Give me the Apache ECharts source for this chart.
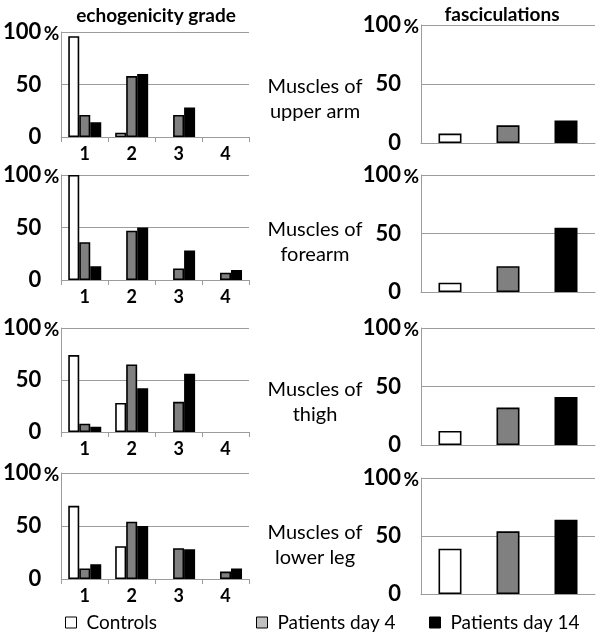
<!DOCTYPE html>
<html>
<head>
<meta charset="utf-8">
<script src="https://cdn.jsdelivr.net/npm/echarts@6/dist/echarts.min.js"></script>
<style>
  html, body { margin: 0; padding: 0; background: #fff; }
  #chart { width: 600px; height: 634px; }
</style>
</head>
<body>
<div id="chart"></div>
<script>
// categories
var grades = ['1', '2', '3', '4'];
var groups = ['Controls', 'Patients day 4', 'Patients day 14'];
var muscles = ['Muscles of\nupper arm', 'Muscles of\nforearm', 'Muscles of\nthigh', 'Muscles of\nlower leg'];
var yTicks = [0, 50, 100];

// echogenicity grade, % per grade 1..4, one row per muscle group
var echoControls = [[96, 4, 0, 0], [100, 0, 0, 0], [74, 28, 0, 0], [69, 31, 0, 0]];
var echoDay4 = [[21, 58, 21, 0], [36, 47, 11, 7], [8, 65, 29, 0], [10, 54, 29, 7]];
var echoDay14 = [[14, 60, 28, 0], [13, 50, 28, 9.5], [5, 42, 56, 0], [14, 50, 28, 10]];

// fasciculations %, [controls, day 4, day 14]
var fasc = [[8, 15, 19], [8, 22, 55], [12, 32, 41], [39, 54, 64]];

var colors = ['#ffffff', '#808080', '#000000'];
var legendColors = ['#ffffff', '#c0c0c0', '#000000'];
var font = 'Lato, "Open Sans", sans-serif';
var gridColor = '#9c9c9c';

/*---------------- panel layout ----------------*/
var leftGrids = [[32, 105], [175, 105], [328, 104], [473, 106]];
var rightGrids = [[25, 118], [175, 117], [328, 117], [478, 116]];
var labelTops = [69, 212, 372, 515];

var grid = [], xAxis = [], yAxis = [], series = [], title = [];

function yAxisOpt(idx) {
  return {
    gridIndex: idx, type: 'value', min: 0, max: 100, interval: 50,
    name: '%', nameLocation: 'end', nameGap: -11, nameMoveOverlap: false,
    nameTextStyle: { color: '#000', fontFamily: font, fontWeight: 'bold', fontSize: 19,
      align: 'right', padding: [0, 2, 0, 0] },
    axisLine: { show: true, lineStyle: { color: gridColor, width: 1 } },
    axisTick: { show: false },
    splitLine: { show: true, lineStyle: { color: gridColor, width: 1 } },
    axisLabel: { color: '#000', fontFamily: font, fontWeight: 'bold', fontSize: 22, margin: 20,
      formatter: function (v) { return yTicks.indexOf(v) >= 0 ? String(v) : ''; } }
  };
}

function nz(arr) {
  return arr.map(function (v) { return v === 0 ? '-' : v; });
}

for (var p = 0; p < 4; p++) {
  // left: echogenicity grade
  grid.push({ left: 54, width: 195, top: leftGrids[p][0], height: leftGrids[p][1] });
  // right: fasciculations
  grid.push({ left: 421, width: 174, top: rightGrids[p][0], height: rightGrids[p][1] });

  var li = p * 2, ri = p * 2 + 1;
  xAxis.push({
    gridIndex: li, type: 'category', data: grades,
    axisLine: { lineStyle: { color: gridColor } },
    axisTick: { show: true, length: 5, lineStyle: { color: gridColor } },
    axisLabel: { color: '#000', fontFamily: font, fontWeight: 'bold', fontSize: 18, margin: 8 }
  });
  xAxis.push({
    gridIndex: ri, type: 'category', data: groups,
    axisLine: { lineStyle: { color: gridColor } },
    axisTick: { show: false },
    axisLabel: { show: false }
  });
  yAxis.push(yAxisOpt(li));
  yAxis.push(yAxisOpt(ri));

  var rows = [echoControls[p], echoDay4[p], echoDay14[p]];
  for (var g = 0; g < 3; g++) {
    series.push({
      name: groups[g], type: 'bar', xAxisIndex: li, yAxisIndex: li,
      data: nz(rows[g]), barWidth: 11, barGap: '0%',
      itemStyle: { color: colors[g], borderColor: '#000', borderWidth: 1.6 },
      silent: true, animation: false
    });
  }
  series.push({
    name: 'fasc', type: 'bar', xAxisIndex: ri, yAxisIndex: ri,
    data: fasc[p].map(function (v, k) { return { value: v, itemStyle: { color: colors[k] } }; }),
    barWidth: 23,
    itemStyle: { borderColor: '#000', borderWidth: 1.6 },
    silent: true, animation: false
  });

  title.push({
    text: muscles[p], left: 310, top: labelTops[p], textAlign: 'center',
    textStyle: { fontFamily: font, fontWeight: 'normal', fontSize: 20, lineHeight: 25, color: '#000' }
  });
}

title.push({
  text: 'echogenicity grade', left: 151, top: 1, textAlign: 'center',
  textStyle: { fontFamily: font, fontWeight: 'bold', fontSize: 19, color: '#000' }
});
title.push({
  text: 'fasciculations', left: 497, top: 0, textAlign: 'center',
  textStyle: { fontFamily: font, fontWeight: 'bold', fontSize: 19, color: '#000' }
});

/*---------------- legend, one block per item ----------------*/
var legendLeft = [65, 256, 429];
var legend = groups.map(function (name, k) {
  return {
    data: [{ name: name, itemStyle: { color: legendColors[k], borderColor: '#000', borderWidth: 1 } }],
    left: legendLeft[k], top: 613, icon: 'rect', itemWidth: 11, itemHeight: 11, itemGap: 0,
    padding: 0, selectedMode: false,
    textStyle: { fontFamily: font, fontSize: 19, color: '#000', padding: [0, 0, 0, 5] }
  };
});

var myChart = echarts.init(document.getElementById('chart'));
myChart.setOption({
  backgroundColor: '#fff',
  animation: false,
  title: title,
  legend: legend,
  grid: grid,
  xAxis: xAxis,
  yAxis: yAxis,
  series: series
});
</script>
</body>
</html>
